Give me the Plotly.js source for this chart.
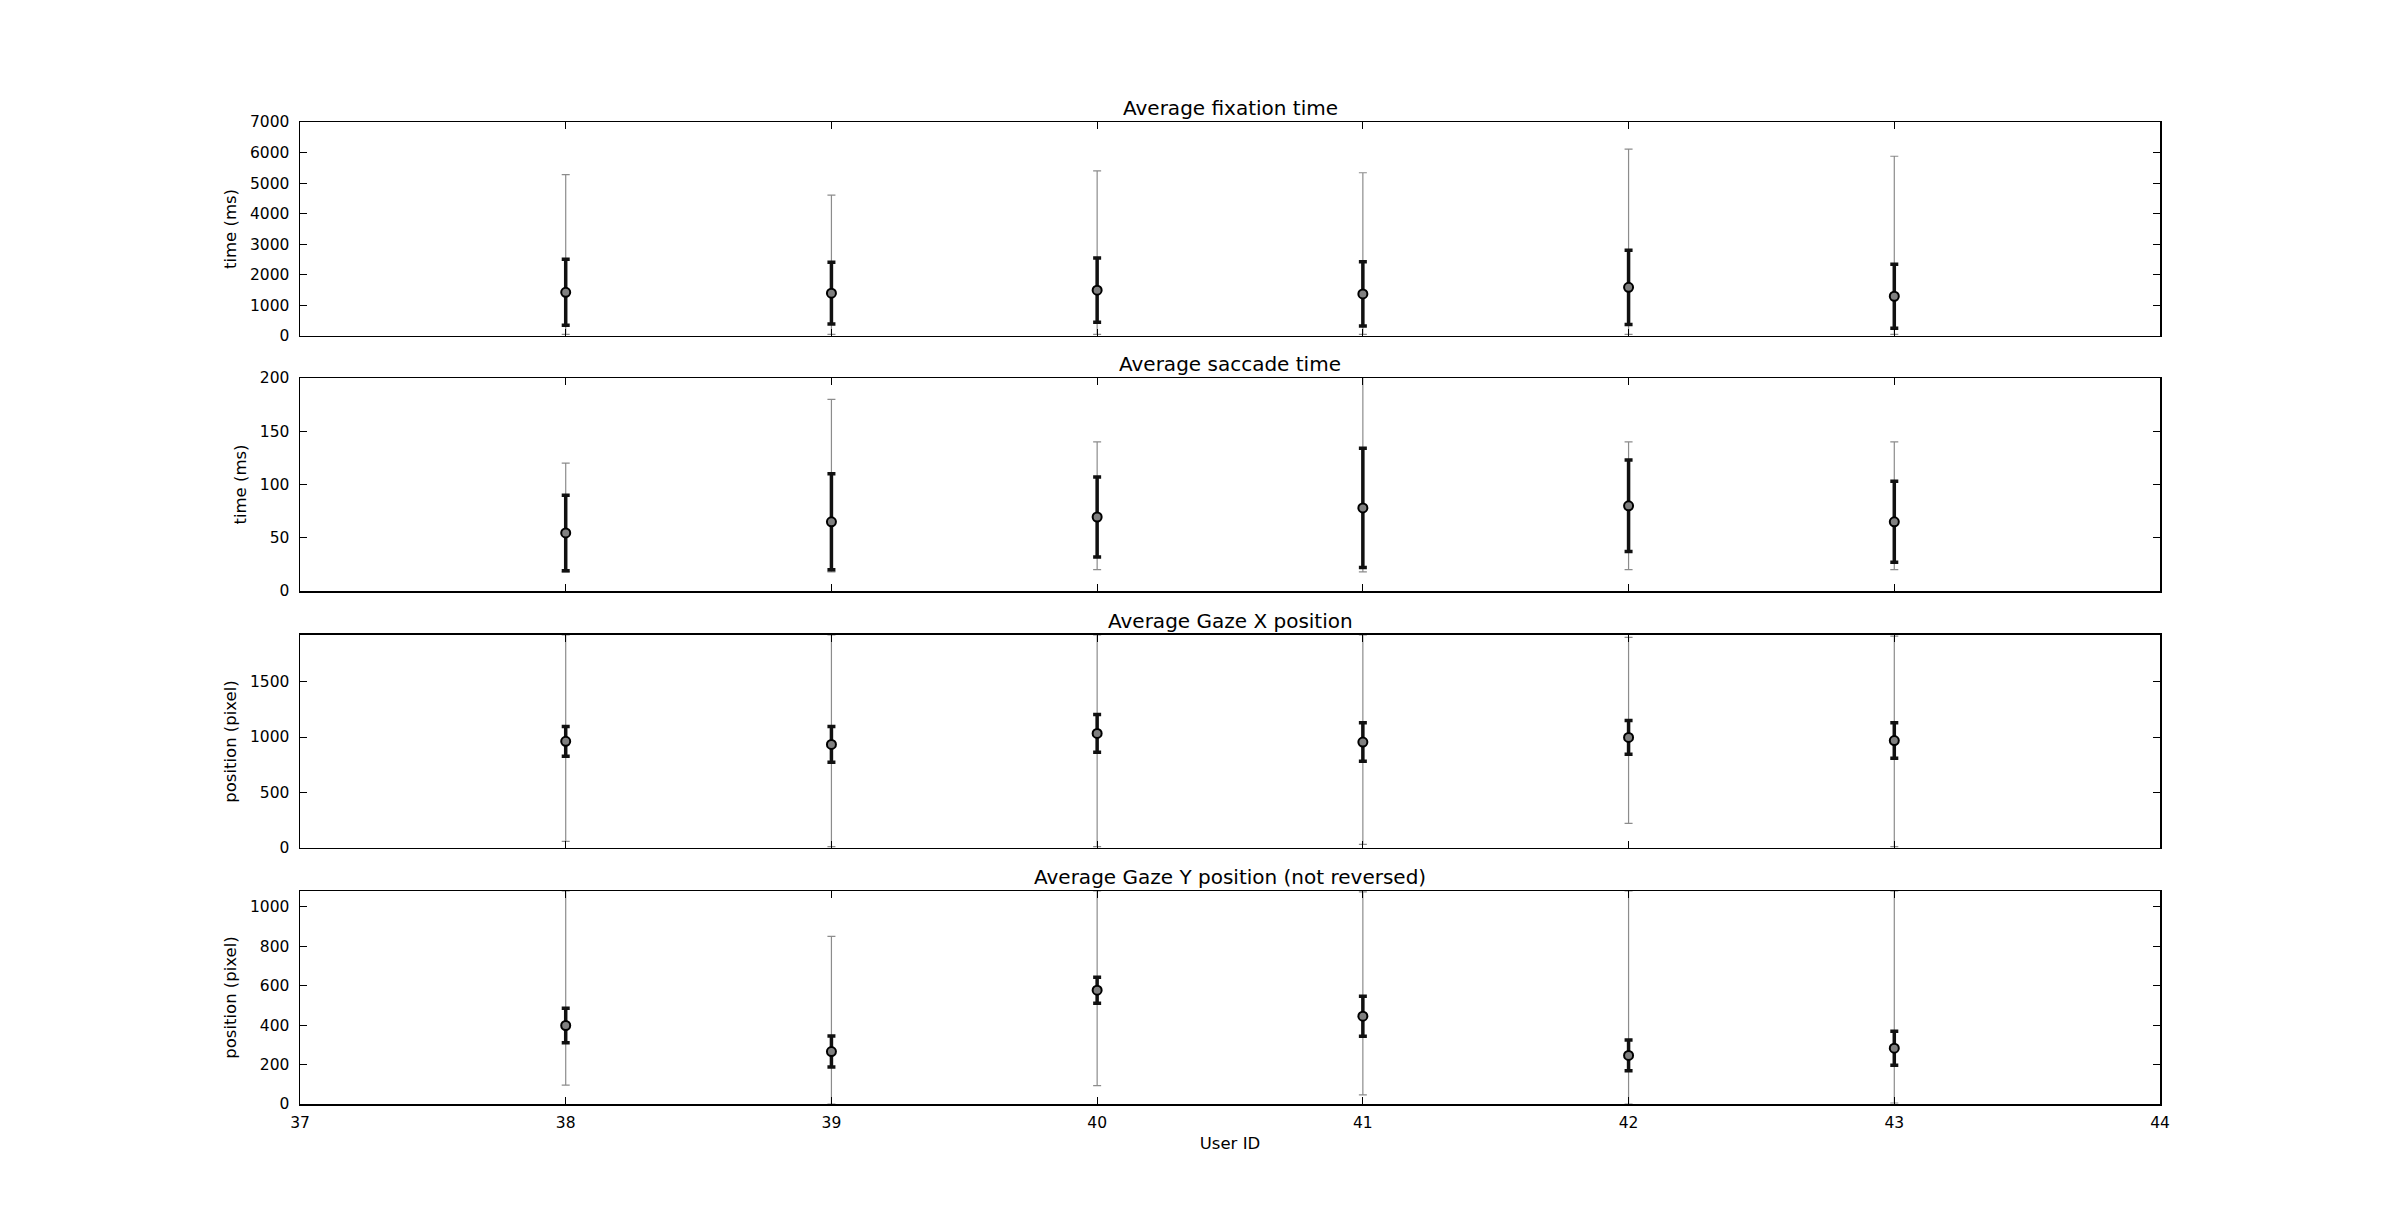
<!DOCTYPE html>
<html>
<head>
<meta charset="utf-8">
<script src="https://cdn.plot.ly/plotly-3.0.1.min.js"></script>
<style>html,body{margin:0;padding:0;background:#fff;}#chart{width:2400px;height:1228px;}</style>
</head>
<body>
<div id="chart"></div>
<script>
// ---- data ----
const users = [38, 39, 40, 41, 42, 43];

const panelTitles = ["Average fixation time", "Average saccade time", "Average Gaze X position", "Average Gaze Y position (not reversed)"];
const yTitles = ["time (ms)", "time (ms)", "position (pixel)", "position (pixel)"];

const fixMean = [1430, 1400, 1500, 1375, 1590, 1300];
const fixStd  = [1080, 1010, 1050, 1050, 1215, 1050];
const fixMin  = [55, 55, 55, 55, 55, 55];
const fixMax  = [5280, 4610, 5400, 5340, 6110, 5880];

const sacMean = [54.5, 65, 69.5, 78, 80, 65];
const sacStd  = [35.5, 45, 37.5, 56, 43, 38];
const sacMin  = [18, 18, 20, 18, 20, 20];
const sacMax  = [120, 180, 140, 210, 140, 140];

const gxMean = [962, 934, 1033, 955, 997, 968];
const gxStd  = [134, 162, 171, 174, 153, 160];
const gxMin  = [60, 12, 12, 33, 222, 12];
const gxMax  = [1920, 1920, 1920, 1920, 1898, 1910];

const gyMean = [398, 266, 577, 445, 246, 283];
const gyStd  = [88, 79, 66, 101, 78, 86];
const gyMin  = [96, 0, 93, 46, 0, 5];
const gyMax  = [1080, 850, 1080, 1076, 1080, 1080];

const yRanges = [[0, 7000], [0, 200], [0, 1920], [0, 1080]];
const yDticks = [1000, 50, 500, 200];

// ---- build ----
const series = [
  [fixMean, fixStd, fixMin, fixMax],
  [sacMean, sacStd, sacMin, sacMax],
  [gxMean, gxStd, gxMin, gxMax],
  [gyMean, gyStd, gyMin, gyMax]
];

const FONT = "DejaVu Sans, sans-serif";
const traces = [];
series.forEach(function (s, i) {
  const mean = s[0], sd = s[1], mn = s[2], mx = s[3];
  const ax = i === 0 ? '' : String(i + 1);
  traces.push({
    type: 'scatter', mode: 'markers', x: users, y: mean,
    xaxis: 'x' + ax, yaxis: 'y' + ax, showlegend: false, hoverinfo: 'skip',
    marker: {size: 1, color: 'rgba(0,0,0,0)'},
    error_y: {
      type: 'data', symmetric: false,
      array: mx.map(function (v, k) { return v - mean[k]; }),
      arrayminus: mean.map(function (v, k) { return v - mn[k]; }),
      color: '#8c8c8c', thickness: 1.2, width: 4
    }
  });
  traces.push({
    type: 'scatter', mode: 'markers', x: users, y: mean,
    xaxis: 'x' + ax, yaxis: 'y' + ax, showlegend: false,
    marker: {size: 9, color: '#808080', line: {color: '#000', width: 2}},
    error_y: {type: 'data', array: sd, color: '#111', thickness: 3.5, width: 4}
  });
});

const domains = [[0.7821, 1], [0.5224, 0.7393], [0.2607, 0.4776], [0, 0.2169]];
const layout = {
  width: 2400, height: 1228,
  margin: {l: 300, r: 240, t: 122, b: 124},
  paper_bgcolor: '#fff', plot_bgcolor: '#fff',
  font: {family: FONT, size: 15, color: '#000'},
  showlegend: false,
  annotations: []
};

for (let i = 0; i < 4; i++) {
  const ax = i === 0 ? '' : String(i + 1);
  layout['xaxis' + ax] = {
    anchor: 'y' + ax, domain: [0, 1], range: [37, 44], dtick: 1, tick0: 37,
    showgrid: false, zeroline: false, showline: true, linecolor: '#000', linewidth: 1.5,
    mirror: 'ticks', ticks: 'inside', ticklen: 7, tickwidth: 1, tickcolor: '#000',
    showticklabels: i === 3, ticklabelstandoff: 4,
    tickfont: {family: FONT, size: 15.5, color: '#000'},
    title: i === 3 ? {text: 'User ID', font: {family: FONT, size: 16.5, color: '#000'}, standoff: 6} : {text: ''}
  };
  layout['yaxis' + ax] = {
    anchor: 'x' + ax, domain: domains[i], range: yRanges[i], dtick: yDticks[i], tick0: 0,
    showgrid: false, zeroline: false, showline: true, linecolor: '#000', linewidth: 1.5,
    mirror: 'ticks', ticks: 'inside', ticklen: 7, tickwidth: 1, tickcolor: '#000',
    ticklabelstandoff: 6,
    tickfont: {family: FONT, size: 15.5, color: '#000'},
    title: {text: yTitles[i], font: {family: FONT, size: 16.5, color: '#000'}, standoff: 9}
  };
  layout.annotations.push({
    text: panelTitles[i], xref: 'paper', yref: 'paper', x: 0.5, y: domains[i][1],
    xanchor: 'center', yanchor: 'bottom', yshift: 0, showarrow: false,
    font: {family: FONT, size: 20, color: '#000'}
  });
}

Plotly.newPlot('chart', traces, layout, {staticPlot: true, displayModeBar: false});
</script>
</body>
</html>
